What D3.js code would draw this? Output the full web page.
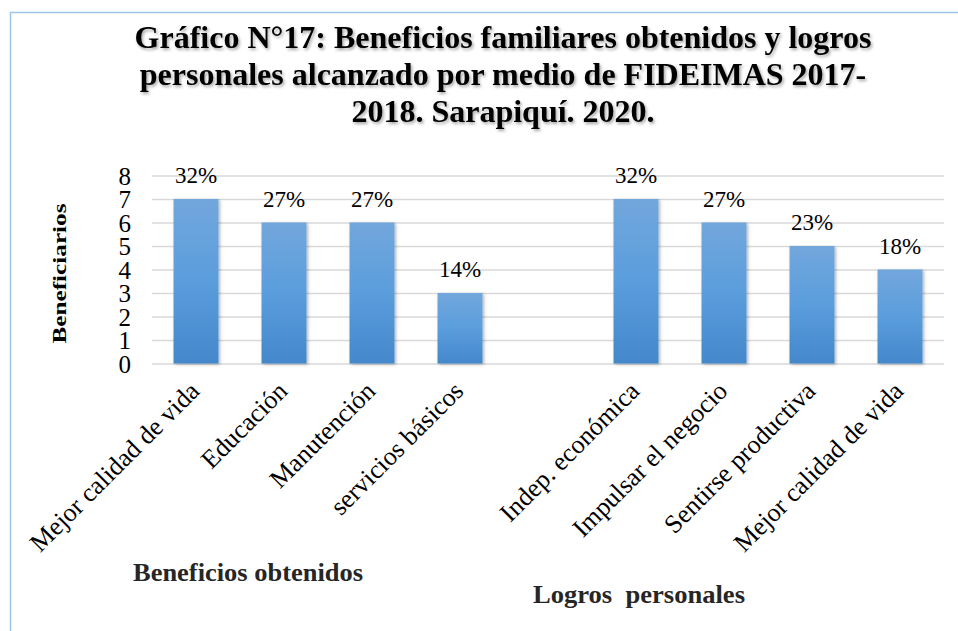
<!DOCTYPE html>
<html>
<head>
<meta charset="utf-8">
<script src="https://cdn.jsdelivr.net/npm/d3@7"></script>
<style>
  html, body { margin: 0; padding: 0; background: #fff; }
  svg { display: block; font-family: "Liberation Serif", "Times New Roman", serif; }
</style>
</head>
<body>
<div id="chart"></div>
<script>
// --- Datos del gráfico
const titleLines = [
  "Gráfico N°17: Beneficios familiares obtenidos y logros",
  "personales alcanzado por medio de FIDEIMAS 2017-",
  "2018. Sarapiquí. 2020."
];
const beneficiosLabels = ["Mejor calidad de vida", "Educación", "Manutención", "servicios básicos"];
const beneficiosValues = [7, 6, 6, 3];
const beneficiosPct = ["32%", "27%", "27%", "14%"];
const logrosLabels = ["Indep. económica", "Impulsar el negocio", "Sentirse productiva", "Mejor calidad de vida"];
const logrosValues = [7, 6, 5, 4];
const logrosPct = ["32%", "27%", "23%", "18%"];
const yTicks = [0, 1, 2, 3, 4, 5, 6, 7, 8];
const yTitle = "Beneficiarios";
const groupTitles = ["Beneficios obtenidos", "Logros  personales"];

// one empty slot between the two groups
const rows = [];
beneficiosLabels.forEach((l, i) => rows.push({ label: l, value: beneficiosValues[i], pct: beneficiosPct[i] }));
rows.push(null);
logrosLabels.forEach((l, i) => rows.push({ label: l, value: logrosValues[i], pct: logrosPct[i] }));
const bars = rows.map((d, i) => d ? Object.assign({ slot: i }, d) : null).filter(d => d);

// --- Layout
const width = 958, height = 631;
const plot = { left: 152, right: 944, top: 175.5, bottom: 363.5 };

const svg = d3.select("#chart").append("svg")
  .attr("width", width)
  .attr("height", height)
  .attr("viewBox", [0, 0, width, height]);

const defs = svg.append("defs");
const grad = defs.append("linearGradient")
  .attr("id", "barGrad").attr("x1", 0).attr("y1", 0).attr("x2", 0).attr("y2", 1);
grad.append("stop").attr("offset", "0%").attr("stop-color", "#72a7dc");
grad.append("stop").attr("offset", "50%").attr("stop-color", "#5b9ddd");
grad.append("stop").attr("offset", "100%").attr("stop-color", "#4388cb");

defs.append("filter").attr("id", "textShadow")
  .attr("x", "-5%").attr("y", "-20%").attr("width", "110%").attr("height", "150%")
  .append("feDropShadow")
  .attr("dx", 1.5).attr("dy", 2).attr("stdDeviation", 1.5)
  .attr("flood-color", "#000").attr("flood-opacity", 0.35);

defs.append("filter").attr("id", "barShadow")
  .attr("x", "-20%").attr("y", "-5%").attr("width", "140%").attr("height", "110%")
  .append("feDropShadow")
  .attr("dx", 1.5).attr("dy", 1).attr("stdDeviation", 1.5)
  .attr("flood-color", "#000").attr("flood-opacity", 0.3);

// chart area border
svg.append("rect")
  .attr("x", 10.5).attr("y", 12.5)
  .attr("width", width).attr("height", height)
  .attr("fill", "none")
  .attr("stroke", "#9dc3e6")
  .attr("stroke-width", 1.5);

// title
svg.append("text")
  .attr("text-anchor", "middle")
  .attr("font-size", 32)
  .attr("font-weight", "bold")
  .attr("fill", "#000")
  .attr("filter", "url(#textShadow)")
  .selectAll("tspan")
  .data(titleLines)
  .join("tspan")
  .attr("x", 503)
  .attr("y", (d, i) => 48 + i * 37)
  .text(d => d);

// scales
const x = d3.scaleBand()
  .domain(d3.range(rows.length))
  .range([plot.left, plot.right])
  .paddingInner(0.489)
  .paddingOuter(0.2445);

const y = d3.scaleLinear()
  .domain([0, 8])
  .range([plot.bottom, plot.top]);

// gridlines
svg.append("g")
  .attr("class", "grid")
  .attr("transform", `translate(${plot.left},0)`)
  .call(d3.axisLeft(y).tickValues(yTicks).tickSize(-(plot.right - plot.left)).tickFormat(""))
  .call(g => g.select(".domain").remove())
  .call(g => g.selectAll("line").attr("stroke", "#d9d9d9").attr("stroke-width", 1.5));

// y axis labels
svg.append("g")
  .attr("transform", "translate(131,0)")
  .call(d3.axisLeft(y).tickValues(yTicks).tickSize(0).tickPadding(0).tickFormat(d3.format("d")))
  .call(g => g.select(".domain").remove())
  .call(g => g.selectAll("text")
    .attr("font-family", "'Liberation Serif', 'Times New Roman', serif")
    .attr("font-size", 25)
    .attr("fill", "#000")
    .attr("dy", "0.34em"));

svg.append("text")
  .attr("transform", `translate(66,${(plot.top + plot.bottom) / 2 + 4}) rotate(-90)`)
  .attr("text-anchor", "middle")
  .attr("font-size", 19)
  .attr("font-weight", "bold")
  .attr("fill", "#000")
  .attr("textLength", 140)
  .attr("lengthAdjust", "spacingAndGlyphs")
  .text(yTitle);

// bars
svg.append("g")
  .attr("class", "bars")
  .selectAll("rect")
  .data(bars)
  .join("rect")
  .attr("x", d => x(d.slot))
  .attr("y", d => y(d.value))
  .attr("width", x.bandwidth())
  .attr("height", d => y(0) - y(d.value))
  .attr("fill", "url(#barGrad)")
  .attr("filter", "url(#barShadow)");

// value labels
svg.append("g")
  .selectAll("text")
  .data(bars)
  .join("text")
  .attr("x", d => x(d.slot) + x.bandwidth() / 2)
  .attr("y", d => y(d.value) - 16)
  .attr("text-anchor", "middle")
  .attr("font-size", 23)
  .attr("fill", "#000")
  .text(d => d.pct);

// category labels
svg.append("g")
  .selectAll("text")
  .data(bars)
  .join("text")
  .attr("transform", d => `translate(${x(d.slot) + x.bandwidth() / 2 + 5},${plot.bottom + 29}) rotate(-45)`)
  .attr("text-anchor", "end")
  .attr("font-size", 26)
  .attr("fill", "#000")
  .text(d => d.label);

// group titles
svg.append("text")
  .attr("x", 248).attr("y", 581)
  .attr("text-anchor", "middle")
  .attr("font-size", 25)
  .attr("font-weight", "bold")
  .attr("fill", "#262626")
  .attr("textLength", 230)
  .attr("lengthAdjust", "spacingAndGlyphs")
  .text(groupTitles[0]);

svg.append("text")
  .attr("x", 639).attr("y", 603)
  .attr("text-anchor", "middle")
  .attr("font-size", 25)
  .attr("font-weight", "bold")
  .attr("fill", "#262626")
  .attr("xml:space", "preserve")
  .style("white-space", "pre")
  .attr("textLength", 212)
  .attr("lengthAdjust", "spacingAndGlyphs")
  .text(groupTitles[1]);
</script>
</body>
</html>
